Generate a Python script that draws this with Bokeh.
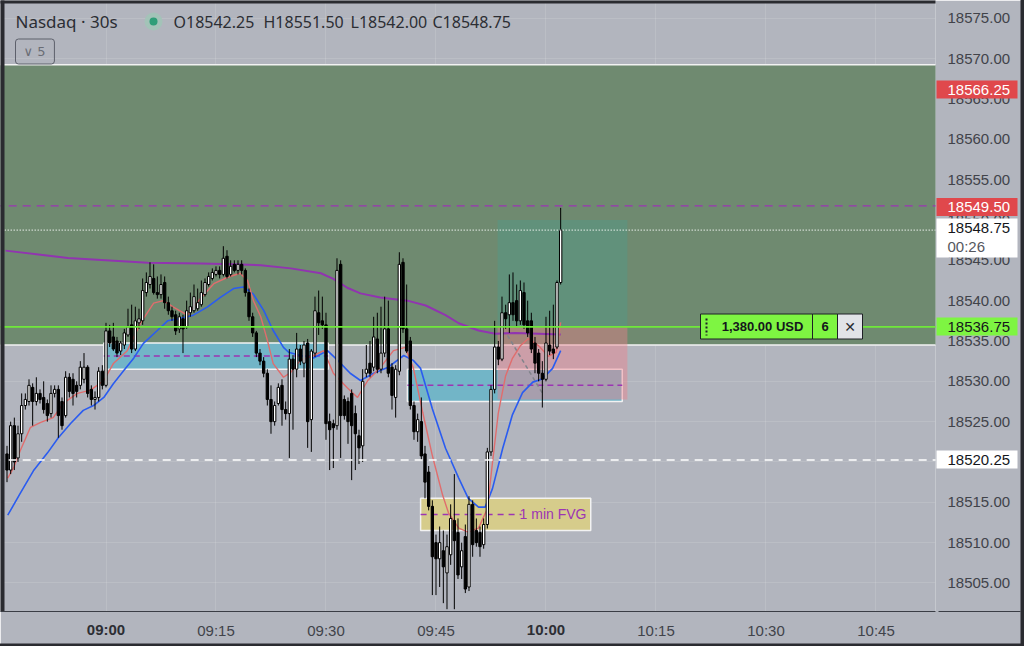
from bokeh.plotting import figure
from bokeh.models import Range1d, FixedTicker, PrintfTickFormatter, Label, ColumnDataSource
from bokeh.core.properties import value
from bokeh.embed import file_html
from bokeh.resources import INLINE

# ---------------- data ----------------
# 30-second candles, first one at 08:46:30 (minutes relative to 09:00)
first_candle_min = -13.5
candle_step_min = 0.5
opens = [18521.0, 18519.0, 18524.5, 18520.5, 18523.5, 18527.0, 18527.5, 18529.25, 18527.5, 18528.5,
         18528.0, 18527.25, 18526.0, 18528.5, 18529.0, 18527.5, 18525.75, 18530.5, 18530.25, 18529.5,
         18529.5, 18530.25, 18531.75, 18529.0, 18527.75, 18528.0, 18531.25,
         18529.5, 18536.25, 18535.5, 18535.0, 18533.75, 18534.5, 18535.75, 18537.0, 18534.0, 18537.25,
         18537.5, 18541.0, 18542.0, 18542.75, 18541.0, 18540.75, 18542.25, 18539.75, 18538.75, 18538.25,
         18536.5, 18537.75, 18536.75, 18538.5, 18538.75, 18539.0, 18539.5, 18540.75, 18542.0, 18542.75,
         18543.25, 18543.75, 18543.25, 18545.5, 18543.25, 18544.5, 18543.75, 18544.5, 18543.75, 18541.0,
         18538.0, 18536.0, 18533.5, 18532.5, 18531.0, 18527.75, 18525.0, 18527.25, 18529.5, 18526.5,
         18526.0, 18532.75, 18531.5, 18534.0, 18532.25, 18534.75, 18525.25, 18533.5, 18538.5, 18537.5,
         18537.0, 18525.0, 18524.75, 18524.5, 18544.5, 18527.75, 18527.5, 18528.5, 18526.0, 18523.25,
         18522.0, 18531.0, 18532.25, 18531.75, 18535.25, 18531.5, 18533.5, 18536.5, 18531.75, 18528.0,
         18531.25, 18544.75, 18536.5, 18535.0, 18527.0, 18523.75, 18525.0, 18521.0, 18518.75, 18514.5,
         18510.0, 18508.0, 18509.0, 18506.25, 18508.5, 18512.75, 18511.25, 18507.0, 18510.75, 18504.5,
         18514.75, 18511.5, 18511.25, 18509.75, 18512.25, 18521.25, 18529.0, 18534.25, 18532.75, 18538.5,
         18538.25, 18539.75, 18540.0, 18537.5, 18541.0, 18537.5, 18537.5, 18534.75, 18533.5, 18531.0,
         18530.25, 18534.5, 18534.0, 18534.25, 18542.25]
highs = [18522.0, 18525.0, 18525.5, 18524.5, 18528.5, 18528.5, 18530.25, 18529.75, 18530.5, 18529.0,
         18530.0, 18527.75, 18529.5, 18529.5, 18529.5, 18528.0, 18531.25, 18531.0, 18531.0, 18530.0,
         18532.5, 18533.5, 18532.0, 18529.5, 18528.75, 18531.75, 18532.0,
         18537.25, 18537.0, 18537.25, 18535.5, 18535.0, 18536.5, 18539.0, 18539.5, 18539.25, 18539.0,
         18542.75, 18543.5, 18544.75, 18544.5, 18543.0, 18543.25, 18543.0, 18540.5, 18539.25, 18538.75,
         18538.5, 18538.25, 18540.0, 18541.0, 18542.0, 18541.5, 18542.5, 18542.75, 18543.5, 18544.0,
         18544.25, 18544.25, 18546.75, 18546.25, 18545.0, 18545.0, 18545.0, 18545.0, 18544.0, 18541.5,
         18538.5, 18536.25, 18534.0, 18533.0, 18531.5, 18529.5, 18527.5, 18529.75, 18530.25, 18527.5,
         18534.0, 18533.25, 18536.0, 18534.5, 18535.0, 18535.25, 18534.0, 18540.5, 18541.25, 18540.5,
         18538.5, 18526.0, 18525.25, 18545.25, 18545.0, 18528.25, 18528.0, 18529.0, 18527.0, 18524.0,
         18531.5, 18534.5, 18535.0, 18538.0, 18538.5, 18539.25, 18540.5, 18540.0, 18532.25, 18532.0,
         18546.0, 18545.25, 18542.0, 18535.5, 18527.5, 18526.0, 18528.0, 18522.0, 18519.5, 18515.25,
         18511.0, 18512.0, 18511.5, 18511.0, 18514.75, 18518.5, 18513.0, 18510.0, 18512.25, 18515.75,
         18515.25, 18513.0, 18512.0, 18513.0, 18521.75, 18529.5, 18537.5, 18535.0, 18540.5, 18539.5,
         18543.25, 18543.5, 18542.0, 18542.5, 18542.25, 18540.0, 18538.5, 18535.5, 18534.0, 18532.5,
         18538.0, 18538.75, 18539.5, 18542.5, 18551.5]
lows = [18517.5, 18518.5, 18519.0, 18520.0, 18522.5, 18526.5, 18527.0, 18524.5, 18527.0, 18527.25,
        18526.0, 18525.0, 18525.5, 18528.0, 18523.0, 18524.0, 18525.5, 18528.0, 18527.0, 18528.0,
        18529.0, 18529.75, 18528.0, 18527.0, 18526.5, 18527.5, 18529.0,
        18529.25, 18534.25, 18533.75, 18533.0, 18533.25, 18534.0, 18535.5, 18533.5, 18533.75, 18536.5,
        18537.0, 18540.5, 18541.5, 18540.75, 18540.25, 18540.25, 18539.0, 18538.25, 18537.5, 18535.75,
        18536.0, 18533.5, 18536.5, 18538.0, 18538.5, 18538.75, 18539.25, 18540.5, 18541.75, 18542.5,
        18543.0, 18542.75, 18543.0, 18542.75, 18543.0, 18543.5, 18543.25, 18543.25, 18540.5, 18537.5,
        18535.5, 18533.0, 18532.0, 18530.5, 18527.0, 18523.5, 18524.5, 18527.0, 18524.5, 18525.25,
        18520.5, 18524.0, 18530.5, 18532.0, 18530.5, 18521.75, 18521.25, 18533.0, 18535.75, 18536.5,
        18522.75, 18519.0, 18519.25, 18524.0, 18520.5, 18525.25, 18522.25, 18517.75, 18519.0, 18519.75,
        18520.0, 18530.5, 18530.5, 18531.25, 18531.0, 18531.0, 18533.0, 18530.5, 18526.5, 18525.5,
        18530.75, 18536.0, 18533.5, 18526.5, 18522.75, 18522.5, 18520.25, 18515.5, 18514.0, 18503.5,
        18503.5, 18504.5, 18502.5, 18501.75, 18507.25, 18501.75, 18505.5, 18505.5, 18503.75, 18504.0,
        18508.25, 18509.5, 18508.25, 18509.25, 18511.75, 18520.75, 18528.5, 18532.0, 18532.5, 18536.5,
        18536.0, 18537.5, 18536.75, 18537.0, 18536.5, 18535.5, 18533.5, 18531.0, 18530.0, 18526.75,
        18530.0, 18533.25, 18532.75, 18534.0, 18542.0]
closes = [18519.0, 18524.5, 18520.0, 18523.5, 18527.0, 18527.75, 18529.5, 18527.5, 18528.5, 18527.75,
          18526.5, 18525.75, 18528.5, 18529.0, 18525.75, 18524.5, 18530.5, 18528.75, 18528.5, 18528.75,
          18531.75, 18531.75, 18528.5, 18527.75, 18528.0, 18531.25, 18529.5,
          18536.25, 18534.75, 18534.0, 18533.5, 18534.75, 18536.0, 18536.75, 18534.0, 18537.5, 18537.75,
          18541.25, 18542.25, 18543.0, 18541.0, 18540.75, 18542.0, 18539.75, 18538.75, 18538.0, 18536.25,
          18538.0, 18536.5, 18538.75, 18539.25, 18540.5, 18539.75, 18541.0, 18542.25, 18543.0, 18543.5,
          18543.75, 18543.25, 18545.25, 18543.0, 18544.25, 18543.75, 18544.5, 18543.75, 18541.0, 18538.0,
          18536.0, 18533.5, 18532.5, 18531.0, 18527.75, 18525.0, 18527.0, 18529.25, 18526.5, 18526.0,
          18532.75, 18531.5, 18534.0, 18532.5, 18534.5, 18525.0, 18533.75, 18538.75, 18537.25, 18537.0,
          18524.75, 18524.0, 18524.25, 18543.75, 18525.75, 18525.75, 18525.0, 18524.5, 18523.5, 18521.75,
          18530.0, 18531.5, 18531.0, 18535.5, 18531.5, 18533.5, 18536.5, 18531.0, 18528.25, 18531.5,
          18544.5, 18536.5, 18533.75, 18527.0, 18523.75, 18525.25, 18520.75, 18517.5, 18514.5, 18508.25,
          18508.0, 18510.0, 18507.0, 18509.5, 18513.0, 18510.25, 18506.0, 18509.0, 18504.25, 18514.75,
          18509.75, 18510.0, 18509.5, 18512.25, 18521.25, 18529.0, 18534.25, 18532.75, 18538.5, 18537.75,
          18539.75, 18538.25, 18537.5, 18541.25, 18537.0, 18536.0, 18534.0, 18532.25, 18531.0, 18530.25,
          18534.75, 18533.75, 18533.5, 18542.25, 18548.75]

# indicator lines (minutes from 09:00, price)
fast_ema_t = [-13.4, -12.6, -11.7, -10.3, -8.9, -7.2, -5.8, -3.9, -2.1, -0.3, 1.0, 2.9, 4.7, 6.5, 7.8,
              9.2, 11.1, 12.9, 14.7, 16.6, 18.3, 19.3, 20.1, 21.1, 22.0, 22.8, 24.2, 25.2, 26.5, 28.3,
              29.7, 31.0, 32.9, 34.3, 35.7, 37.4, 39.2, 40.8, 41.9, 43.2, 44.5, 45.9, 46.7, 48.1, 49.4,
              50.8, 52.0, 52.7, 53.5, 54.5, 55.4, 56.5, 57.6, 59.0, 60.3, 61.4, 62.0]
fast_ema_p = [18518.0, 18519.3, 18521.4, 18524.3, 18524.9, 18525.5, 18527.3, 18528.5, 18528.9, 18530.1,
              18532.2, 18533.8, 18537.2, 18539.7, 18540.0, 18539.2, 18538.2, 18540.3, 18542.1, 18542.9,
              18543.4, 18542.5, 18540.0, 18538.0, 18535.1, 18532.2, 18530.5, 18531.1, 18532.6, 18533.2,
              18533.8, 18531.0, 18529.2, 18528.0, 18530.1, 18531.7, 18533.8, 18534.2, 18531.7, 18526.1,
              18520.8, 18515.9, 18513.7, 18511.8, 18511.3, 18511.8, 18514.2, 18519.9, 18526.1, 18530.7,
              18532.8, 18534.4, 18535.3, 18534.4, 18533.1, 18533.6, 18537.3]
slow_ema_t = [-13.4, -11.7, -9.9, -8.0, -6.5, -4.8, -3.1, -1.7, -0.3, 1.0, 2.4, 3.8, 5.1, 7.0, 8.4,
              10.2, 11.9, 13.8, 15.6, 17.4, 18.7, 20.1, 21.5, 22.8, 24.2, 24.9, 26.5, 28.3, 30.2, 31.6,
              33.3, 34.7, 36.5, 38.4, 40.6, 41.9, 42.9, 44.5, 46.3, 48.1, 49.4, 50.8, 51.7, 52.7, 54.1,
              55.4, 56.8, 58.2, 59.5, 60.9, 62.0]
slow_ema_p = [18513.4, 18516.1, 18518.9, 18521.1, 18523.0, 18524.8, 18526.4, 18527.0, 18528.0, 18529.7,
              18531.3, 18532.9, 18534.7, 18536.3, 18537.5, 18537.8, 18538.2, 18539.2, 18540.4, 18541.5,
              18541.7, 18540.8, 18538.8, 18536.3, 18534.2, 18533.6, 18533.2, 18532.9, 18533.8, 18532.6,
              18531.0, 18530.1, 18531.0, 18531.7, 18533.2, 18532.6, 18531.6, 18526.6, 18521.7, 18518.0,
              18515.5, 18514.4, 18514.4, 18516.7, 18521.7, 18525.8, 18528.6, 18529.9, 18530.3, 18531.6,
              18533.8]
vwap_t = [-13.7, -5.2, 5.7, 12.9, 17.4, 21.1, 25.2, 29.3, 31.0, 32.9, 34.7, 37.4, 41.1, 43.6, 46.3,
          48.1, 50.8, 53.1, 55.8, 59.0, 62.0]
vwap_p = [18546.2, 18545.3, 18544.7, 18544.6, 18544.5, 18544.4, 18544.0, 18543.4, 18542.7, 18541.6,
          18540.9, 18540.4, 18540.0, 18539.4, 18538.2, 18537.2, 18536.3, 18535.9, 18536.0, 18535.9,
          18535.8]

# zones
zone_top, zone_bottom = 18569.25, 18534.5
fvg_left = [-0.3, 41.1]
fvg_right = [30.3, 70.4]
fvg_bottom = [18531.5, 18527.5]
fvg_top = [18534.75, 18531.5]
fvg_mid = [18533.125, 18529.5]
fvg1m_left, fvg1m_right, fvg1m_bottom, fvg1m_top, fvg1m_mid = 42.9, 66.1, 18511.5, 18515.5, 18513.5
pos_left, pos_right = 53.4, 71.1
pos_target, pos_entry, pos_stop = 18550.0, 18536.75, 18527.75
trade_path_t = [54.75, 59.66]
trade_path_p = [18535.7, 18528.3]

# horizontal price lines
prev_high_level = 18551.75
last_price = 18548.75
order_level = 18536.75
white_level = 18520.25

# axis ticks
time_ticks = [0, 15, 30, 45, 60, 75, 90, 105]
time_labels = ["09:00", "09:15", "09:30", "09:45", "10:00", "10:15", "10:30", "10:45"]
bold_times = ["09:00", "10:00"]
price_ticks = [18505, 18510, 18515, 18520, 18525, 18530, 18535, 18540, 18545, 18550, 18555,
               18560, 18565, 18570, 18575]

# price-scale markers: text, bg, fg, vertical screen position of the box centre
marker_texts = ["18566.25", "18549.50", "18536.75", "18520.25"]
marker_bg = ["#e0484c", "#e0484c", "#7ef542", "#ffffff"]
marker_fg = ["#ffffff", "#ffffff", "#15171c", "#15171c"]
marker_ypx = [89, 206.5, 326, 459]
last_price_text = "18548.75"
countdown_text = "00:26"

# header texts
symbol_text = "Nasdaq · 30s"
ohlc_texts = ["O18542.25", "H18551.50", "L18542.00", "C18548.75"]

# ---------------- helpers for screen-placed UI ----------------
def px_t(x):
    return (x - 105.5) / 7.3333

def py_p(y):
    return 18575.0 - (y - 17.8) / 8.067

BG = "#b2b5be"
GREEN_ZONE = "#6f8a70"
CYAN = "#72b5c7"
YELLOW = "#d6cc8b"
PURPLE = "#9c35b3"
ORDER_GREEN = "#7ef542"
TXT = "#2c2e34"
AXIS_TXT = "#41434a"
DARK = "#2a2b30"

p = figure(width=1024, height=646,
           x_range=Range1d(px_t(0), px_t(935)), y_range=Range1d(py_p(611), py_p(0)),
           output_backend="svg", toolbar_location=None, y_axis_location="right",
           background_fill_color=BG, border_fill_color=BG, outline_line_color=None,
           min_border_left=0, min_border_top=0, min_border_right=89, min_border_bottom=35)

# axes
ya = p.yaxis[0]
ya.ticker = FixedTicker(ticks=price_ticks)
ya.formatter = PrintfTickFormatter(format="%.2f")
ya.axis_line_color = None
ya.major_tick_line_color = None
ya.minor_tick_line_color = None
ya.major_tick_out = 0
ya.major_tick_in = 0
ya.minor_tick_out = 0
ya.major_label_text_font = "Liberation Sans"
ya.major_label_text_font_size = "15px"
ya.major_label_text_color = AXIS_TXT
ya.major_label_standoff = 12

xa = p.xaxis[0]
xa.ticker = FixedTicker(ticks=time_ticks)
xa.major_label_overrides = {t: ("" if lab in bold_times else lab) for t, lab in zip(time_ticks, time_labels)}
xa.axis_line_color = "#3a3d45"
xa.major_tick_line_color = None
xa.minor_tick_line_color = None
xa.major_tick_out = 0
xa.major_tick_in = 0
xa.minor_tick_out = 0
xa.major_label_text_font = "Liberation Sans"
xa.major_label_text_font_size = "15px"
xa.major_label_text_color = AXIS_TXT
xa.major_label_standoff = 10

p.xgrid.grid_line_color = "white"
p.xgrid.grid_line_alpha = 0.12
p.ygrid.grid_line_color = "white"
p.ygrid.grid_line_alpha = 0.12

XL, XR = -40, 140

# big green zone
p.quad(left=[XL], right=[XR], bottom=[zone_bottom], top=[zone_top],
       fill_color=GREEN_ZONE, line_color="#f2f2f2", line_width=1.5)
# fair value gap boxes
p.quad(left=fvg_left, right=fvg_right, bottom=fvg_bottom, top=fvg_top,
       fill_color=CYAN, line_color="#f2f2f2", line_width=1.5)
p.quad(left=[fvg1m_left], right=[fvg1m_right], bottom=[fvg1m_bottom], top=[fvg1m_top],
       fill_color=YELLOW, line_color="#f2f2f2", line_width=1.5)
# long position tool
p.quad(left=[pos_left], right=[pos_right], bottom=[pos_entry], top=[pos_target],
       fill_color="#4f9a8a", fill_alpha=0.45, line_color=None)
p.quad(left=[pos_left], right=[pos_right], bottom=[pos_stop], top=[pos_entry],
       fill_color="#f07f8a", fill_alpha=0.42, line_color=None)
# midlines
p.segment(x0=fvg_left, x1=fvg_right, y0=fvg_mid, y1=fvg_mid, line_color=PURPLE,
          line_dash="6 4", line_width=1.5)
p.segment(x0=[fvg1m_left], x1=[px_t(521)], y0=[fvg1m_mid], y1=[fvg1m_mid], line_color=PURPLE,
          line_dash="6 5", line_width=1.5)
p.line(trade_path_t, trade_path_p, line_color="#80838b", line_dash="4 3", line_width=1.5)

# indicators
p.line(vwap_t, vwap_p, line_color="#9134b0", line_width=2)
p.line(slow_ema_t, slow_ema_p, line_color="#2a5cf0", line_width=1.6)
p.line(fast_ema_t, fast_ema_p, line_color="#e06d6d", line_width=1.4)

# candles
n = len(opens)
ts = [first_candle_min + candle_step_min * i for i in range(n)]
src = ColumnDataSource(dict(
    t=ts, o=opens, h=highs, l=lows, c=closes,
    top=[max(o, c) for o, c in zip(opens, closes)],
    bot=[min(o, c) for o, c in zip(opens, closes)],
    fill=["white" if c >= o else "black" for o, c in zip(opens, closes)],
))
p.segment(x0="t", x1="t", y0="l", y1="h", source=src, line_color="black", line_width=1)
p.vbar(x="t", width=0.32, top="top", bottom="bot", source=src, fill_color="fill",
       line_color="black", line_width=1)

# price lines
p.segment(x0=[XL], x1=[XR], y0=[prev_high_level], y1=[prev_high_level], line_color=PURPLE,
          line_dash="8 6", line_width=1.3)
p.segment(x0=[XL], x1=[XR], y0=[last_price], y1=[last_price], line_color="white",
          line_dash="1 2", line_width=1.3)
p.segment(x0=[XL], x1=[XR], y0=[order_level], y1=[order_level], line_color="#6fe83a",
          line_width=1.6)
p.segment(x0=[XL], x1=[XR], y0=[white_level], y1=[white_level], line_color="white",
          line_dash="8 6", line_width=1.5)

# FVG text
p.text(x=[px_t(586)], y=[fvg1m_mid], text=["1 min FVG"], text_align="right", text_baseline="middle",
       text_font=value("Liberation Sans"), text_font_size="14px", text_color=PURPLE)

# order panel
oy = py_p(326)
p.rect(x=[px_t(756), px_t(824.5)], y=[oy, oy], width=[112, 25], height=[25, 25],
       width_units="screen", height_units="screen", fill_color=ORDER_GREEN, line_color="#1e2026")
p.rect(x=[px_t(849.5)], y=[oy], width=[25], height=[25], width_units="screen", height_units="screen",
       fill_color="#e1e3e8", line_color="#1e2026")
p.segment(x0=[px_t(706)], x1=[px_t(706)], y0=[py_p(318)], y1=[py_p(335)], line_color="#1e2026",
          line_dash="2 2", line_width=2)
p.text(x=[px_t(762), px_t(824.5)], y=[oy, oy], text=["1,380.00 USD", "6"], text_align="center",
       text_baseline="middle", text_font=value("Liberation Sans"), text_font_style="bold",
       text_font_size="13px", text_color="#15171c")
p.text(x=[px_t(849.5)], y=[oy], text=["✕"], text_align="center", text_baseline="middle",
       text_font=value("DejaVu Sans"), text_font_size="14px", text_color="#2a2c33")

# chart frame edges (dark border of the screenshot)
p.quad(left=[XL], right=[px_t(4)], bottom=[py_p(700)], top=[py_p(-50)], fill_color=DARK, line_color=None)
p.quad(left=[XL], right=[XR], bottom=[py_p(3)], top=[py_p(-50)], fill_color=DARK, line_color=None)

# header
p.scatter(x=[px_t(153)], y=[py_p(21)], size=18, fill_color="#a3c3b8", line_color=None)
p.scatter(x=[px_t(153)], y=[py_p(21)], size=8, fill_color="#2f9e78", line_color=None)
p.add_layout(Label(x=px_t(15), y=py_p(21), text=symbol_text, text_align="left", text_baseline="middle",
                   text_font="Noto Sans", text_font_size="17px", text_color=TXT))
for xpx, txt in zip([173, 263, 350, 432], ohlc_texts):
    p.add_layout(Label(x=px_t(xpx), y=py_p(21), text=txt, text_align="left", text_baseline="middle",
                       text_font="Noto Sans", text_font_size="16px", text_color=TXT))
p.add_layout(Label(x=px_t(15), y=py_p(51), text="∨ 5", text_align="left", text_baseline="middle",
                   text_font="DejaVu Sans", text_font_size="13px", text_color="#6a6d75",
                   border_line_color="#5d606b", border_line_width=1, border_radius=3,
                   padding=dict(left=8, right=9, top=5, bottom=5)))

# ----- items in the axis areas (overlay level so they are not clipped to the frame) -----
# bold hour labels on the time scale
bold_t = [time_ticks[time_labels.index(lab)] for lab in bold_times]
p.text(x=bold_t, y=[py_p(629)] * len(bold_t), text=bold_times, text_align="center",
       text_baseline="middle", text_font=value("Liberation Sans"), text_font_size="15px",
       text_font_style="bold", text_color=TXT, level="overlay")
# time-scale line continuing under the price scale
p.segment(x0=[px_t(938)], x1=[px_t(1020)], y0=[py_p(611)], y1=[py_p(611)], line_color="#3a3d45",
          line_width=1, level="overlay")
# price-scale markers
mk_y = [py_p(v) for v in marker_ypx]
p.rect(x=[px_t(976.5)] * 4, y=mk_y, width=[81] * 4, height=[18] * 4, width_units="screen",
       height_units="screen", fill_color=marker_bg, line_color=None, level="overlay")
p.text(x=[px_t(947)] * 4, y=mk_y, text=marker_texts, text_color=marker_fg, text_align="left",
       text_baseline="middle", text_font=value("Liberation Sans"), text_font_size="15px",
       level="overlay")
p.rect(x=[px_t(976.5)], y=[py_p(237.5)], width=[81], height=[39], width_units="screen",
       height_units="screen", fill_color="white", line_color=None, level="overlay")
p.text(x=[px_t(947)], y=[py_p(227)], text=[last_price_text], text_color="#15171c", text_align="left",
       text_baseline="middle", text_font=value("Liberation Sans"), text_font_size="15px", level="overlay")
p.text(x=[px_t(947)], y=[py_p(246)], text=[countdown_text], text_color="#55575e", text_align="left",
       text_baseline="middle", text_font=value("Liberation Sans"), text_font_size="15px", level="overlay")
# settings hexagon and outer dark border
p.scatter(x=[px_t(979)], y=[py_p(628)], marker="hex", size=18, fill_color=None, line_color="#dcdee4",
          line_width=1.2, level="overlay")
p.scatter(x=[px_t(979)], y=[py_p(628)], marker="circle", size=5, fill_color=None, line_color="#dcdee4",
          line_width=1, level="overlay")
p.quad(left=[px_t(1020)], right=[px_t(1040)], bottom=[py_p(700)], top=[py_p(-50)], fill_color=DARK,
       line_color=None, level="overlay")
p.quad(left=[XL], right=[px_t(1040)], bottom=[py_p(700)], top=[py_p(643)], fill_color=DARK,
       line_color=None, level="overlay")

open("out.html", "w").write(file_html(p, INLINE))
